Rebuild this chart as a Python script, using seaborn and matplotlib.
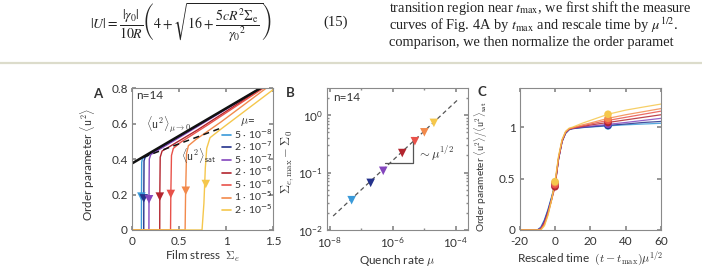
import numpy as np
import pandas as pd
import matplotlib
matplotlib.use("Agg")
import matplotlib.pyplot as plt
from matplotlib.lines import Line2D
from matplotlib.ticker import LogLocator, NullFormatter
import seaborn as sns

# quench rates, legend labels and colours
mu_values = [5e-8, 2e-7, 5e-7, 2e-6, 5e-6, 1e-5, 2e-5]
mu_labels = ["5 · 10$^{-8}$", "2 · 10$^{-7}$", "5 · 10$^{-7}$", "2 · 10$^{-6}$",
             "5 · 10$^{-6}$", "1 · 10$^{-5}$", "2 · 10$^{-5}$"]
mu_colors = ["#3a9ad9", "#24328c", "#8446bd", "#b3252f", "#e8524a", "#f28a4c", "#f5c74c"]

# Panel A: order parameter vs film stress
stress_a = [
    [0, 0.100, 0.101, 0.103, 0.11, 0.40, 1.37],
    [0, 0.125, 0.126, 0.128, 0.14, 0.45, 1.37],
    [0, 0.180, 0.181, 0.184, 0.20, 0.50, 1.375],
    [0, 0.295, 0.296, 0.300, 0.32, 0.40, 0.70, 1.385],
    [0, 0.410, 0.413, 0.420, 0.44, 0.52, 0.80, 1.40],
    [0, 0.565, 0.570, 0.580, 0.60, 0.68, 0.95, 1.43],
    [0, 0.745, 0.765, 0.780, 0.795, 0.83, 0.95, 1.15, 1.5],
]
u2_a = [
    [0, 0, 0.20, 0.38, 0.402, 0.495, 0.80],
    [0, 0, 0.20, 0.39, 0.410, 0.510, 0.80],
    [0, 0, 0.20, 0.40, 0.425, 0.520, 0.80],
    [0, 0, 0.20, 0.41, 0.445, 0.470, 0.565, 0.80],
    [0, 0, 0.20, 0.42, 0.460, 0.495, 0.590, 0.80],
    [0, 0, 0.20, 0.43, 0.475, 0.510, 0.610, 0.80],
    [0, 0, 0.15, 0.35, 0.460, 0.520, 0.570, 0.65, 0.79],
]
peak_stress = [0.100, 0.125, 0.181, 0.296, 0.413, 0.572, 0.785]
peak_u2 = [0.188, 0.178, 0.173, 0.188, 0.203, 0.221, 0.259]
zero_rate_stress = [0, 1.37]
zero_rate_u2 = [0.375, 0.80]
sat_stress = [0.12, 0.95]
sat_u2 = [0.41, 0.575]

# Panel B: stress overshoot vs quench rate
delta_sigma = [0.033, 0.066, 0.107, 0.218, 0.35, 0.50, 0.73]
fit_mu = [1.3e-8, 1.15e-4]
fit_sigma = [0.0175, 1.85]
slope_mu = [5.5e-7, 4.3e-6, 4.3e-6]
slope_sigma = [0.146, 0.146, 0.41]

# Panel C: normalised order parameter vs rescaled time
time_c = [-20, -10, -8, -6, -4, -2, 0, 2, 4, 6, 8, 10, 15, 20, 30, 40, 50, 60]
u2_norm_c = [
    [0, 0, 0.030, 0.10, 0.20, 0.32, 0.45, 0.69, 0.860, 0.940, 0.975, 0.985, 0.995, 1.000, 1.012, 1.022, 1.030, 1.037],
    [0, 0, 0.020, 0.09, 0.19, 0.31, 0.44, 0.69, 0.860, 0.940, 0.975, 0.985, 0.995, 1.003, 1.017, 1.030, 1.045, 1.055],
    [0, 0, 0.020, 0.08, 0.18, 0.30, 0.43, 0.69, 0.860, 0.945, 0.978, 0.988, 1.000, 1.008, 1.027, 1.045, 1.065, 1.085],
    [0, 0, 0.010, 0.07, 0.17, 0.29, 0.42, 0.69, 0.865, 0.950, 0.980, 0.990, 1.005, 1.020, 1.045, 1.070, 1.095, 1.120],
    [0, 0, 0.010, 0.06, 0.16, 0.29, 0.44, 0.70, 0.870, 0.950, 0.982, 0.990, 1.010, 1.030, 1.065, 1.095, 1.125, 1.155],
    [0, 0, 0.005, 0.05, 0.15, 0.29, 0.46, 0.71, 0.875, 0.955, 0.985, 0.995, 1.020, 1.040, 1.085, 1.120, 1.150, 1.180],
    [0, 0, 0.000, 0.04, 0.14, 0.29, 0.47, 0.72, 0.880, 0.960, 0.990, 1.000, 1.035, 1.065, 1.125, 1.165, 1.195, 1.224],
]
marker_times = [0, 30]

sns.set_theme(style="ticks")
plt.rcParams["font.family"] = ["Lato", "DejaVu Sans"]
plt.rcParams["mathtext.fontset"] = "cm"
grey = "#8a8a8a"
txt = "#333333"
plt.rcParams.update({
    "axes.unicode_minus": False,
    "axes.edgecolor": grey, "axes.linewidth": 0.8,
    "xtick.color": grey, "ytick.color": grey,
    "xtick.labelcolor": txt, "ytick.labelcolor": txt,
    "xtick.direction": "in", "ytick.direction": "in",
    "xtick.top": True, "ytick.right": True,
    "xtick.major.size": 3, "ytick.major.size": 3,
    "xtick.minor.size": 1.5, "ytick.minor.size": 1.5,
    "xtick.major.pad": 4, "ytick.major.pad": 3,
    "xtick.labelsize": 8.5, "ytick.labelsize": 8.5,
    "axes.labelsize": 8.5, "axes.labelcolor": txt, "text.color": txt,
})

fig = plt.figure(figsize=(7.02, 2.68), dpi=100)
W, H = 702, 268


def add_ax(x0, x1, y0=88, y1=230):
    return fig.add_axes([x0 / W, 1 - y1 / H, (x1 - x0) / W, (y1 - y0) / H])


axA = add_ax(132, 273)
axB = add_ax(327, 468)
axC = add_ax(519.7, 661)

# ---- page text above the figure ----
fig.text(181 / W, 1 - 23 / H,
         r"$|U|=\dfrac{|\gamma_0|}{10R}\left(4+\sqrt{16+\dfrac{5cR^2\Sigma_{\mathrm{e}}}{{\gamma_0}^2}}\right)$",
         ha="center", va="center", fontsize=10, color="#222222", math_fontfamily="stix",
         family="Liberation Serif")
fig.text(336 / W, 1 - 22 / H, "(15)", ha="center", va="center", fontsize=10.5,
         color="#222222", family="Liberation Serif")
page_lines = [r"transition region near $t_{\max}$, we first shift the measure",
              r"curves of Fig. 4A by $t_{\max}$ and rescale time by $\mu^{1/2}$.",
              r"comparison, we then normalize the order paramet"]
for i, line in enumerate(page_lines):
    fig.text(389 / W, 1 - (8 + 17.2 * i) / H, line, ha="left", va="center", fontsize=10.4,
             color="#222222", family="Liberation Serif", math_fontfamily="stix")
fig.add_artist(Line2D([0, 1], [1 - 63 / H, 1 - 63 / H], transform=fig.transFigure,
                      color="#dcdccb", lw=1.6))

# ---- Panel A ----
rows = []
for lab, xs, ys in zip(mu_labels, stress_a, u2_a):
    for k, (x, y) in enumerate(zip(xs, ys)):
        rows.append({"mu": lab, "k": k, "stress": x, "u2": y})
dfA = pd.DataFrame(rows)
sns.lineplot(data=dfA, x="stress", y="u2", hue="mu", hue_order=mu_labels, palette=mu_colors,
             units="mu", estimator=None, sort=False, lw=1.0, legend=False, ax=axA)
sns.lineplot(x=zero_rate_stress, y=zero_rate_u2, color="#111111", lw=1.8, ax=axA)
sns.lineplot(x=sat_stress, y=sat_u2, color="#111111", lw=1.1, ax=axA)
axA.lines[-1].set_dashes([4, 3])
sns.scatterplot(x=peak_stress, y=peak_u2, hue=mu_labels, hue_order=mu_labels, palette=mu_colors,
                marker="v", s=38, linewidth=0, legend=False, zorder=5, ax=axA)
axA.set_xlim(0, 1.5)
axA.set_ylim(0, 0.8)
axA.set_xticks([0, 0.5, 1, 1.5], ["0", "0.5", "1", "1.5"])
axA.set_yticks([0, 0.2, 0.4, 0.6, 0.8], ["0", "0.2", "0.4", "0.6", "0.8"])
axA.set_xlabel(r"Film stress  $\Sigma_e$", labelpad=2)
axA.set_ylabel(r"Order parameter $\langle\mathsf{u}^2\rangle$")
axA.yaxis.set_label_coords(-0.245, 0.46)
axA.text(0.04, 0.74, "n=14", fontsize=8.5)
axA.text(0.15, 0.59, r"$\langle\mathsf{u}^2\rangle_{\mu\rightarrow 0}$", fontsize=8.5, va="center")
axA.text(0.52, 0.42, r"$\langle\mathsf{u}^2\rangle_{\mathsf{sat}}$", fontsize=8.5, va="center")
handles = [Line2D([], [], color=c, lw=1.2) for c in mu_colors]
leg = axA.legend(handles, mu_labels, title=r"$\mu$=", loc="upper left",
                 bbox_to_anchor=(0.64, 0.81), frameon=False, fontsize=7.5,
                 title_fontsize=8.5, handlelength=0.8, handletextpad=0.3,
                 labelspacing=-0.12, borderaxespad=0, borderpad=0)
for t in leg.get_texts():
    t.set_math_fontfamily("dejavusans")
fig.text(98 / W, 1 - 94 / H, "A", fontsize=9.5, weight="bold", ha="center", va="center")

# ---- Panel B ----
sns.lineplot(x=fit_mu, y=fit_sigma, color="#555555", lw=0.9, ax=axB)
axB.lines[-1].set_dashes([3.5, 2.5])
sns.lineplot(x=slope_mu, y=slope_sigma, color="#555555", lw=0.9, sort=False, estimator=None, ax=axB)
sns.scatterplot(x=mu_values, y=delta_sigma, hue=mu_labels, hue_order=mu_labels, palette=mu_colors,
                marker="v", s=38, linewidth=0, legend=False, zorder=5, ax=axB)
axB.set_xscale("log")
axB.set_yscale("log")
axB.set_xlim(10 ** -8.08, 10 ** -3.62)
axB.set_ylim(1e-2, 2.95)
axB.set_xticks([1e-8, 1e-6, 1e-4])
axB.set_yticks([1e-2, 1e-1, 1e0])
axB.xaxis.set_minor_locator(LogLocator(base=10, subs=[1.0]))
axB.xaxis.set_minor_formatter(NullFormatter())
axB.yaxis.set_minor_locator(LogLocator(base=10, subs=np.arange(2, 10)))
axB.yaxis.set_minor_formatter(NullFormatter())
axB.set_xlabel(r"Quench rate $\mu$", labelpad=2)
axB.set_ylabel(r"$\Sigma_{e,\max}-\Sigma_0$", fontsize=9)
axB.yaxis.set_label_coords(-0.22, 0.48)
axB.text(6.0e-6, 0.215, r"$\sim\mu^{1/2}$", fontsize=9, va="center")
axB.text(0.04, 0.93, "n=14", fontsize=8.5, transform=axB.transAxes, va="center")
fig.text(290 / W, 1 - 93 / H, "B", fontsize=9.5, weight="bold", ha="center", va="center")

# ---- Panel C ----
rows = []
for lab, ys in zip(mu_labels, u2_norm_c):
    for t, y in zip(time_c, ys):
        rows.append({"mu": lab, "t": t, "u": y})
dfC = pd.DataFrame(rows)
sns.lineplot(data=dfC, x="t", y="u", hue="mu", hue_order=mu_labels, palette=mu_colors,
             estimator=None, lw=0.9, alpha=0.85, legend=False, ax=axC)
dots = dfC[dfC["t"].isin(marker_times)]
sns.scatterplot(data=dots, x="t", y="u", hue="mu", hue_order=mu_labels, palette=mu_colors,
                s=30, linewidth=0, legend=False, zorder=5, ax=axC)
axC.set_xlim(-20, 60)
axC.set_ylim(0, 1.38)
axC.set_xticks([-20, 0, 20, 40, 60])
axC.set_yticks([0, 0.5, 1], ["0", "0.5", "1"])
axC.set_xlabel(r"Rescaled time  $(t-t_{\mathrm{max}})\mu^{1/2}$", labelpad=2)
axC.set_ylabel(r"Order parameter $\langle\mathsf{u}^2\rangle/\langle\mathsf{u}^2\rangle_{\mathsf{sat}}$",
               fontsize=7.2)
axC.yaxis.set_label_coords(-0.21, 0.445)
fig.text(482 / W, 1 - 92 / H, "C", fontsize=9.5, weight="bold", ha="center", va="center")

fig.savefig("out.png", dpi=100)
